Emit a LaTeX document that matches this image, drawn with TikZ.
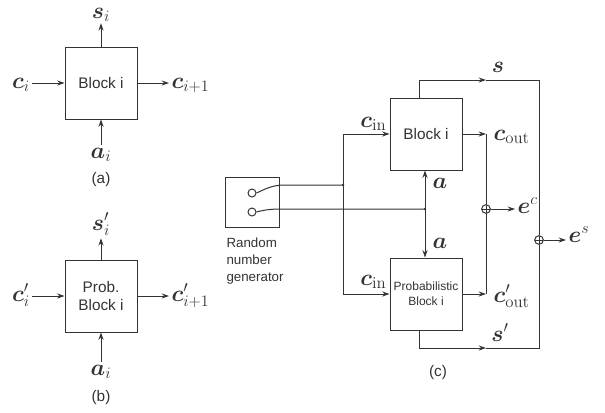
\documentclass[tikz,border=0pt]{standalone}
\usepackage{amsmath,bm}
\usepackage{fontspec}
\setsansfont{Liberation Sans}
\usetikzlibrary{arrows.meta,positioning,calc}

\begin{document}
\begin{tikzpicture}[
  x=0.75pt,y=-0.75pt,
  font=\sffamily\fontsize{11.5}{13.5}\selectfont,
  color=black!80,line width=0.75pt,
  blk/.style={draw,minimum width=54pt,minimum height=54pt,align=center,inner sep=2pt},
  lbl/.style={font=\fontsize{18}{20}\selectfont,inner sep=1.5pt},
  arr/.style={-{Stealth[length=5.5pt,width=3.8pt]}},
  junc/.style={circle,fill,inner sep=0pt,minimum size=2.2pt},
  port/.style={circle,draw,inner sep=0pt,minimum size=6pt},
  oplus/.style={circle,draw,inner sep=0pt,minimum size=6.5pt,
    path picture={\draw (path picture bounding box.north) -- (path picture bounding box.south)
      (path picture bounding box.west) -- (path picture bounding box.east);}}
]
\useasboundingbox (0,0) rectangle (605,412);

% (a) block
\node[blk] (blkA) at (101,83) {Block i};
\node[lbl,anchor=base,inner sep=1pt] (sA) at (101,18) {$\bm{s}_i$};
\node[lbl,anchor=base] (cA) at (21,88) {$\bm{c}_i$};
\node[lbl,anchor=base west] (cA1) at (169,88) {$\bm{c}_{i+1}$};
\node[lbl,anchor=base] (aA) at (101,158) {$\bm{a}_i$};
\node (capA) at (101,180) {(a)};
\draw[arr] (blkA) -- (sA);
\draw[arr] (cA.east |- blkA) -- (blkA);
\draw[arr] (blkA) -- (cA1.west |- blkA);
\draw[arr] (aA) -- (blkA);

% (b) probabilistic block
\node[blk] (blkB) at (101,296) {Prob.\\Block i};
\node[lbl,anchor=base] (sB) at (101,230) {$\bm{s}'_i$};
\node[lbl,anchor=base] (cB) at (21,301) {$\bm{c}'_i$};
\node[lbl,anchor=base west] (cB1) at (169,301) {$\bm{c}'_{i+1}$};
\node[lbl,anchor=base] (aB) at (101,375) {$\bm{a}_i$};
\node (capB) at (101,398) {(b)};
\draw[arr] (blkB) -- (sB);
\draw[arr] (cB.east |- blkB) -- (blkB);
\draw[arr] (blkB) -- (cB1.west |- blkB);
\draw[arr] (aB) -- (blkB);

% (c) random number generator
\node[draw,minimum width=40pt,minimum height=38pt] (rng) at (252.5,202.5) {};
\node[port] (o1) at (252,193) {};
\node[port] (o2) at (252,212) {};
\node[anchor=north west,align=left,font=\sffamily\fontsize{10}{13}\selectfont,inner sep=0pt]
  (rngtxt) at (226,237) {Random\\number\\generator};

% (c) blocks
\node[blk] (blkI) at (426,134) {Block i};
\node[blk,font=\sffamily\fontsize{9}{11}\selectfont] (blkP) at (426,294) {Probabilistic\\Block i};

% inputs
\coordinate (cin) at (343,185);
\coordinate (aj) at (425,209);
\draw[arr] (cin) |- (blkI);
\draw[arr] (cin) |- (blkP);
\draw[arr] (aj) -- (aj |- blkI.south);
\draw[arr] (aj) -- (aj |- blkP.north);
\draw (o1.east) to[out=25,in=180] ++(28,-8) -- (cin);
\draw (o2.east) to[out=15,in=180] ++(28,-3) -- (aj);
\node[junc] (jc) at (cin) {};
\node[junc] (ja) at (aj) {};
\node[lbl,anchor=base east] (cinI) at (389,127) {$\bm{c}_{\mathrm{in}}$};
\node[lbl,anchor=base east] (cinP) at (389,285) {$\bm{c}_{\mathrm{in}}$};
\node[lbl,anchor=base west] (aI) at (430,188) {$\bm{a}$};
\node[lbl,anchor=base west] (aP) at (430,248) {$\bm{a}$};

% outputs c
\coordinate (coI) at (486,134);
\coordinate (coP) at (486,294);
\node[oplus] (plusC) at (486,209) {};
\draw[arr] (blkI) -- (coI);
\draw[arr] (blkP) -- (coP);
\draw (coI) -- (plusC) -- (coP);
\node[lbl,anchor=base west] (coutI) at (491,140) {$\bm{c}_{\mathrm{out}}$};
\node[lbl,anchor=base west] (coutP) at (491,302) {$\bm{c}'_{\mathrm{out}}$};
\node[lbl,anchor=base west] (eC) at (515,213) {$\bm{e}^{c}$};
\draw[arr] (plusC) -- (eC.west |- plusC);

% outputs s
\node[oplus] (plusS) at (539,240) {};
\coordinate (sTM) at (486,80);
\coordinate (sTR) at (539,80);
\coordinate (sBM) at (486,348);
\coordinate (sBR) at (539,348);
\draw[arr] (blkI.100) |- (sTM);
\draw[arr] (blkP.260) |- (sBM);
\draw (sTM) -- (sTR) -- (plusS) -- (sBR) -- (sBM);
\node[lbl,anchor=base] (sT) at (498,72) {$\bm{s}$};
\node[lbl,anchor=base] (sBt) at (500,341) {$\bm{s}'$};
\node[lbl,anchor=base west] (eS) at (566,242) {$\bm{e}^{s}$};
\draw[arr] (plusS) -- (eS.west |- plusS);

\node (capC) at (438,373) {(c)};
\end{tikzpicture}
\end{document}
